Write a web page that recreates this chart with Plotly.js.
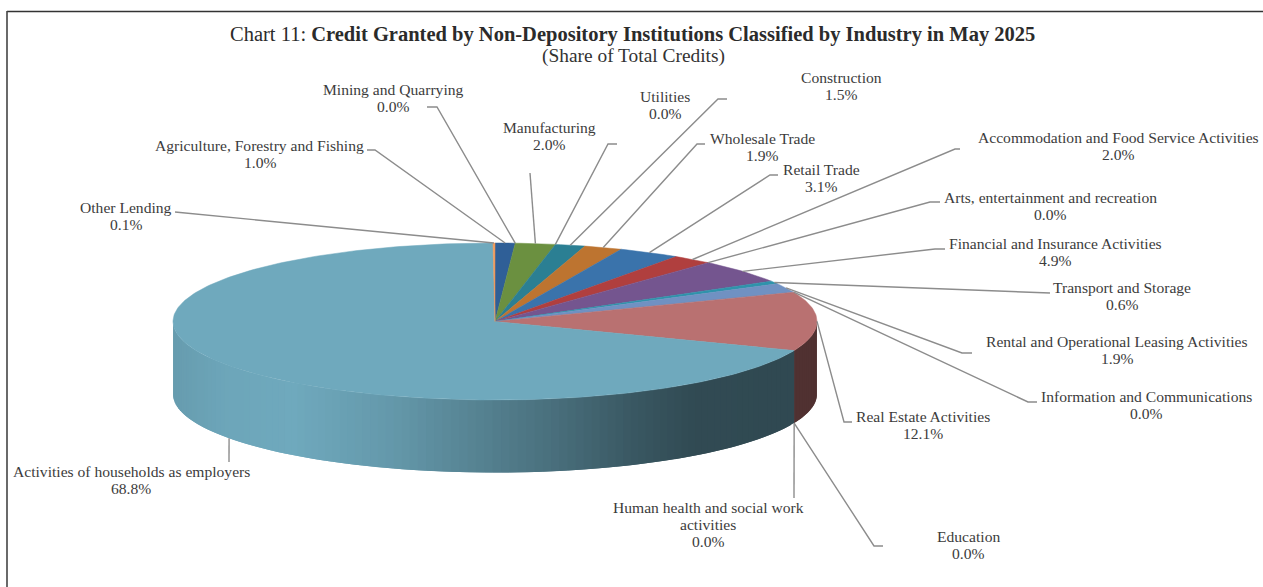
<!DOCTYPE html>
<html>
<head>
<meta charset="utf-8">
<script src="https://cdn.plot.ly/plotly-3.0.1.min.js"></script>
<style>html,body{margin:0;padding:0;background:#fff;overflow:hidden}#chart{width:1263px;height:587px}</style>
</head>
<body>
<div id="chart"></div>
<script>
// ---- data (clockwise from 12 o'clock) ----
const categories = ["Agriculture, Forestry and Fishing","Mining and Quarrying","Manufacturing","Utilities","Construction","Wholesale Trade","Retail Trade","Accommodation and Food Service Activities","Arts, entertainment and recreation","Financial and Insurance Activities","Transport and Storage","Rental and Operational Leasing Activities","Information and Communications","Real Estate Activities","Human health and social work activities","Education","Activities of households as employers","Other Lending"];
const shares = [1.0,0.0,2.0,0.0,1.5,1.9,3.1,2.0,0.0,4.9,0.6,1.9,0.0,12.1,0.0,0.0,68.8,0.1];

// ---- styles ----
const sliceColors = ["#2f5f97","#8a8a8a","#6b9040","#8a8a8a","#2b7f93","#bd7430","#3a73ab","#b03f3e","#888888","#74558f","#2f93ab","#7091c2","#888888","#b97171","#888888","#888888","#6fa9bd","#f09a5c"];
// label line texts (wrapping only), line centres, in page pixels
const labelLines = [["Agriculture, Forestry and Fishing"],["Mining and Quarrying"],["Manufacturing"],["Utilities"],["Construction"],["Wholesale Trade"],["Retail Trade"],["Accommodation and Food Service Activities"],["Arts, entertainment and recreation"],["Financial and Insurance Activities"],["Transport and Storage"],["Rental and Operational Leasing Activities"],["Information and Communications"],["Real Estate Activities"],["Human health and social work","activities"],["Education"],["Activities of households as employers"],["Other Lending"]];
const labelCx = [259.5,393,549,665,841,762,821,1118,1050,1055,1122,1117,1146,923,708,968,131,126];
const labelTop = [145,89,127,96,77,138,169,137,197,243,287,341,396,416,507,536,471,207];
// leader line bend points, outer end first
const leaderBends = [[[367,150],[375,150]],[[427,107],[437,107]],[[530,173]],[[617,144],[608,144]],[[727,99],[718,99]],[[705,144],[697,144]],[[778,175],[770,175]],[[960,149],[955,149]],[[940,202],[930,202]],[[945,249],[935,249]],[[1050,293]],[[972,353],[962,353]],[[1037,402],[1028,402]],[[852,422],[844,422]],[[794,498]],[[883,546],[874,546]],[[229,462]],[[175,212]]];
const CX = 495, CY = 321.5, RX = 322, RY = 78.5, DEPTH = 72.5;
const LINE_GAP = 17.3;
const shadeX = [173,230,300,400,480,560,640,700,817];
const shadeB = [0.92,0.98,1,0.9,0.78,0.66,0.52,0.44,0.43];

// ---- helpers ----
const rad = d => d * Math.PI / 180;
const px = t => CX + RX * Math.sin(rad(t));
const py = t => CY - RY * Math.cos(rad(t));
function brightness(x){
  for(let i=1;i<shadeX.length;i++){
    if(x<=shadeX[i]){const f=(x-shadeX[i-1])/(shadeX[i]-shadeX[i-1]);return shadeB[i-1]+f*(shadeB[i]-shadeB[i-1]);}
  }
  return shadeB[shadeB.length-1];
}
function shade(hex,b){
  const n=parseInt(hex.slice(1),16);
  return `rgb(${Math.round((n>>16&255)*b)},${Math.round((n>>8&255)*b)},${Math.round((n&255)*b)})`;
}
const total = shares.reduce((a,b)=>a+b,0);
let cum = 0;
const starts = [], ends = [];
shares.forEach(v=>{starts.push(cum/total*360);cum+=v;ends.push(cum/total*360);});

const traces = [];
// side wall strips (front half only): drawn from the far end so each strip overlaps the next
shares.forEach((v,i)=>{
  const a=Math.max(starts[i],90), b=Math.min(ends[i],270);
  if(v<=0||a>=b) return;
  const n=Math.max(1,Math.ceil((b-a)/1.5));
  for(let k=n-1;k>=0;k--){
    const t0=a+(b-a)*k/n, t1=a+(b-a)*(k+1)/n;
    const tFar=Math.min(b,t1+1.5);
    const xs=[],ys=[];
    for(let s=0;s<=6;s++){const t=t0+(tFar-t0)*s/6;xs.push(px(t));ys.push(py(t));}
    for(let s=6;s>=0;s--){const t=t0+(tFar-t0)*s/6;xs.push(px(t));ys.push(py(t)+DEPTH);}
    xs.push(xs[0]);ys.push(ys[0]);
    const c=shade(sliceColors[i],brightness((px(t0)+px(t1))/2));
    traces.push({type:"scatter",mode:"lines",x:xs,y:ys,fill:"toself",fillcolor:c,line:{color:c,width:0},hoverinfo:"skip",showlegend:false});
  }
});
// top face slices
shares.forEach((v,i)=>{
  if(v<=0) return;
  const xs=[CX],ys=[CY];
  const n=Math.max(2,Math.ceil((ends[i]-starts[i])/1));
  for(let k=0;k<=n;k++){const t=starts[i]+(ends[i]-starts[i])*k/n;xs.push(px(t));ys.push(py(t));}
  xs.push(CX);ys.push(CY);
  traces.push({type:"scatter",mode:"lines",x:xs,y:ys,fill:"toself",fillcolor:sliceColors[i],line:{color:sliceColors[i],width:0.5},name:categories[i],text:v.toFixed(1)+"%",hoverinfo:"name+text",showlegend:false});
});
// leader lines
shares.forEach((v,i)=>{
  const m=(starts[i]+ends[i])/2;
  const front=Math.cos(rad(m))<0;
  const xs=leaderBends[i].map(p=>p[0]), ys=leaderBends[i].map(p=>p[1]);
  xs.push(px(m)); ys.push(py(m)+(front?DEPTH:0));
  traces.push({type:"scatter",mode:"lines",x:xs,y:ys,line:{color:"#8c8c8c",width:1.4},hoverinfo:"skip",showlegend:false});
});

const textFont={family:"'Liberation Serif',serif",size:15.6,color:"#3c3c3c"};
const annotations=[];
categories.forEach((c,i)=>{
  const lines=labelLines[i].concat([shares[i].toFixed(1)+"%"]);
  lines.forEach((t,j)=>annotations.push({x:labelCx[i],y:labelTop[i]+j*LINE_GAP,xref:"x",yref:"y",text:t,showarrow:false,xanchor:"center",yanchor:"middle",font:textFont,borderpad:0}));
});
annotations.push({x:633.5,y:56,xref:"x",yref:"y",text:"(Share of Total Credits)",showarrow:false,xanchor:"center",yanchor:"middle",font:{family:"'Liberation Serif',serif",size:19.4,color:"#333"}});
annotations.push({x:632,y:34,xref:"x",yref:"y",text:"Chart 11: <b>Credit Granted by Non-Depository Institutions Classified by Industry in May 2025</b>",showarrow:false,xanchor:"center",yanchor:"middle",font:{family:"'Liberation Serif',serif",size:20.5,color:"#2b2b2b"}});

const layout={
  width:1263,height:587,margin:{l:0,r:0,t:0,b:0},paper_bgcolor:"#fff",plot_bgcolor:"#fff",showlegend:false,
  xaxis:{range:[0,1263],visible:false,fixedrange:true},
  yaxis:{range:[587,0],visible:false,fixedrange:true},
  annotations:annotations,
  shapes:[
    {type:"line",xref:"x",yref:"y",x0:7,y0:11.5,x1:1263,y1:11.5,line:{color:"#333",width:1.6}},
    {type:"line",xref:"x",yref:"y",x0:7,y0:11,x1:7,y1:587,line:{color:"#444",width:1.6}}
  ]
};
Plotly.newPlot("chart",traces,layout,{displayModeBar:false});
</script>
</body>
</html>
